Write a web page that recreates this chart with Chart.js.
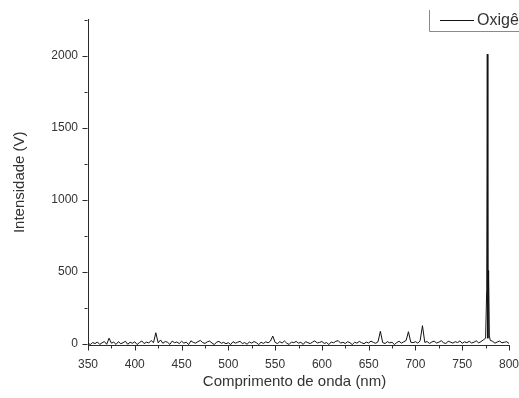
<!DOCTYPE html>
<html>
<head>
<meta charset="utf-8">
<script src="https://cdn.jsdelivr.net/npm/chart.js@4.4.1/dist/chart.umd.min.js"></script>
<style>
  html, body { margin: 0; padding: 0; background: #ffffff; }
  #wrap { width: 519px; height: 398px; overflow: hidden; }
</style>
</head>
<body>
<div id="wrap"><canvas id="chart" width="519" height="398"></canvas></div>
<script>
// Emission spectrum: wavelength (nm) and measured intensity (V)
const wavelengths = [
  350, 352.5, 355, 357.5, 360, 362.5, 365, 367.5, 370, 372.5,
  375, 377.5, 380, 382.5, 385, 387.5, 390, 392.5, 395, 397.5,
  400, 402.5, 405, 407.5, 410, 412.5, 415, 417.5, 420, 422.5,
  425, 427.5, 430, 432.5, 435, 437.5, 440, 442.5, 445, 447.5,
  450, 452.5, 455, 457.5, 460, 462.5, 465, 467.5, 470, 472.5,
  475, 477.5, 480, 482.5, 485, 487.5, 490, 492.5, 495, 497.5,
  500, 502.5, 505, 507.5, 510, 512.5, 515, 517.5, 520, 522.5,
  525, 527.5, 530, 532.5, 535, 537.5, 540, 542.5, 545, 547.5,
  550, 552.5, 555, 557.5, 560, 562.5, 565, 567.5, 570, 572.5,
  575, 577.5, 580, 582.5, 585, 587.5, 590, 592.5, 595, 597.5,
  600, 602.5, 605, 607.5, 610, 612.5, 615, 617.5, 620, 622.5,
  625, 627.5, 630, 632.5, 635, 637.5, 640, 642.5, 645, 647.5,
  650, 652.5, 655, 657.5, 660, 662.5, 665, 667.5, 670, 672.5,
  675, 677.5, 680, 682.5, 685, 687.5, 690, 692.5, 695, 697.5,
  700, 702.5, 705, 707.5, 710, 712.5, 715, 717.5, 720, 722.5,
  725, 727.5, 730, 732.5, 735, 737.5, 740, 742.5, 745, 747.5,
  750, 752.5, 755, 757.5, 760, 762.5, 765, 767.5, 770, 772.5,
  775, 776.2, 776.8, 777.4, 778.2, 779, 780, 782.5, 785, 787.5, 790, 792.5, 795, 797.5, 800
];
const intensity = [
  5, -4, 10, 3, 14, -3, 8, 17, -2, 40,
  6, 13, -3, 16, 2, 9, 19, -2, 12, 5,
  15, -4, 10, 21, 3, 13, 7, 24, 9, 78,
  8, 28, 5, 17, 12, -3, 20, 9, 14, 3,
  19, 6, 13, -4, 22, 11, 6, 16, 25, 10,
  4, 15, 20, 7, -4, 13, 18, 5, 11, 2,
  9, -4, 16, 6, 12, 19, 3, 10, -2, 14,
  6, 17, 9, -4, 12, 4, 15, 8, 20, 55,
  11, 3, 16, 7, 21, 5, -3, 14, 9, 18,
  6, 12, -3, 16, 9, 3, 13, 22, 7, 11,
  17, 4, 10, -4, 14, 8, 19, 23, 6, 12,
  3, 16, 9, -4, 12, 6, 18, 9, 2, 13,
  7, 20, 11, 5, 15, 88, 10, 3, 16, 8,
  12, -4, 10, 19, 6, 15, 24, 85, 12, 9,
  16, 6, 22, 127, 11, 17, 4, 14, 20, 7,
  12, 23, 9, 3, 19, 13, 6, 16, 10, 21,
  5, 15, 9, 19, 7, 12, 22, 8, 16, 28,
  40, 380, 2010, 40, 510, 55, 25, 18, 6, 14, 20, 8, 12, 16, 4
];
const seriesName = 'Oxigênio';
const xTitle = 'Comprimento de onda (nm)';
const xMajorTicks = [350, 400, 450, 500, 550, 600, 650, 700, 750, 800];
const xMinorTicks = [375, 425, 475, 525, 575, 625, 675, 725, 775];
const yMajorTicks = [0, 500, 1000, 1500, 2000];
const yMinorTicks = [250, 750, 1250, 1750, 2250];

const axisColor = '#2b2b2b';
const textColor = '#333333';
const fontFamily = '"Liberation Sans", Arial, sans-serif';

// Outward major/minor tick marks, the x-axis title and the legend box
const decorations = {
  id: 'decorations',
  afterDraw(chart) {
    const ctx = chart.ctx;
    const xs = chart.scales.x, ys = chart.scales.y;
    const area = chart.chartArea;
    ctx.save();
    ctx.strokeStyle = axisColor;
    ctx.lineWidth = 1;
    ctx.beginPath();
    const bottom = Math.round(area.bottom) + 0.5;
    const left = Math.round(area.left) - 0.5;
    xMajorTicks.forEach(v => {
      const px = Math.round(xs.getPixelForValue(v)) + 0.5;
      ctx.moveTo(px, bottom); ctx.lineTo(px, bottom + 5);
    });
    xMinorTicks.forEach(v => {
      const px = Math.round(xs.getPixelForValue(v)) + 0.5;
      ctx.moveTo(px, bottom); ctx.lineTo(px, bottom + 3);
    });
    yMajorTicks.forEach(v => {
      const py = Math.round(ys.getPixelForValue(v)) + 0.5;
      ctx.moveTo(left, py); ctx.lineTo(left - 5, py);
    });
    yMinorTicks.forEach(v => {
      const py = Math.round(ys.getPixelForValue(v)) + 0.5;
      ctx.moveTo(left, py); ctx.lineTo(left - 3, py);
    });
    ctx.stroke();

    // x-axis title
    ctx.fillStyle = textColor;
    ctx.font = '15px ' + fontFamily;
    ctx.textAlign = 'center';
    ctx.textBaseline = 'middle';
    ctx.fillText(xTitle, 294.5, 382);

    // legend frame (left and bottom edges)
    ctx.strokeStyle = '#8a8a8a';
    ctx.beginPath();
    ctx.moveTo(429.5, 10); ctx.lineTo(429.5, 31.5); ctx.lineTo(519, 31.5);
    ctx.stroke();
    // legend sample line and label
    const ds = chart.data.datasets[0];
    ctx.strokeStyle = ds.borderColor;
    ctx.beginPath();
    ctx.moveTo(440, 20.5); ctx.lineTo(474, 20.5);
    ctx.stroke();
    ctx.font = '16px ' + fontFamily;
    ctx.textAlign = 'left';
    ctx.fillText(ds.label, 477, 21);
    ctx.restore();
  }
};

new Chart(document.getElementById('chart'), {
  type: 'line',
  data: {
    datasets: [{
      label: seriesName,
      data: wavelengths.map((w, i) => ({ x: w, y: intensity[i] })),
      borderColor: '#111111',
      borderWidth: 1,
      pointRadius: 0,
      tension: 0,
      fill: false
    }]
  },
  options: {
    responsive: false,
    devicePixelRatio: 1,
    animation: false,
    layout: { padding: { top: 19.5, right: 0, left: 0, bottom: 0 } },
    plugins: { legend: { display: false }, tooltip: { enabled: false } },
    scales: {
      x: {
        type: 'linear',
        min: 350, max: 800,
        afterFit(scale) { scale.height = 53; scale.paddingRight = 10; },
        afterBuildTicks(scale) { scale.ticks = xMajorTicks.map(v => ({ value: v })); },
        grid: { display: false, tickLength: 0 },
        border: { display: true, color: axisColor, width: 1 },
        ticks: {
          color: textColor,
          padding: 12,
          maxRotation: 0,
          callback: v => String(v),
          font: { family: fontFamily, size: 12 }
        },
        title: { display: false }
      },
      y: {
        type: 'linear',
        min: -7, max: 2250,
        afterFit(scale) { scale.width = 88; },
        afterBuildTicks(scale) { scale.ticks = yMajorTicks.map(v => ({ value: v })); },
        grid: { display: false, tickLength: 0 },
        border: { display: true, color: axisColor, width: 1 },
        ticks: {
          color: textColor,
          padding: 10,
          callback: v => String(v),
          font: { family: fontFamily, size: 12 }
        },
        title: {
          display: true,
          text: 'Intensidade (V)',
          color: textColor,
          padding: { top: 11, bottom: 0 },
          font: { family: fontFamily, size: 15 }
        }
      }
    }
  },
  plugins: [decorations]
});
</script>
</body>
</html>
